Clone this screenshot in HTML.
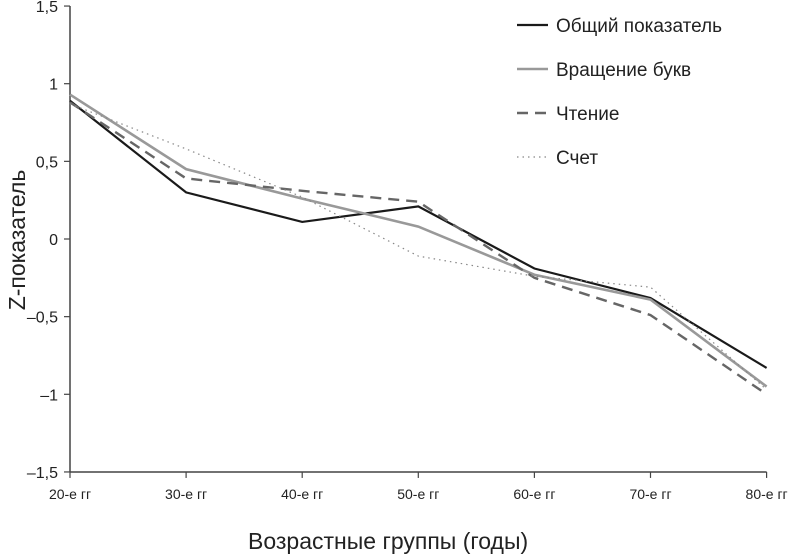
<!DOCTYPE html>
<html><head><meta charset="utf-8"><style>
body{margin:0;background:#fff;}
svg text{font-family:"Liberation Sans Narrow","Liberation Sans",sans-serif;fill:#222;}
</style></head><body>
<svg width="790" height="555">
<g id="axes"></g><g id="series"></g><g id="legend"></g>
<text x="248" y="549" font-size="23">Возрастные группы (годы)</text>
<text transform="translate(25,240) rotate(-90)" text-anchor="middle" font-size="23">Z-показатель</text>
</svg>
<script>
const categories=["20-е гг","30-е гг","40-е гг","50-е гг","60-е гг","70-е гг","80-е гг"];
const yTicks=[1.5,1,0.5,0,-0.5,-1,-1.5];
const yTickLabels=["1,5","1","0,5","0","–0,5","–1","–1,5"];
const overall=[0.89,0.30,0.11,0.21,-0.19,-0.38,-0.83];
const rotation=[0.93,0.45,0.26,0.08,-0.23,-0.39,-0.95];
const reading=[0.88,0.39,0.31,0.24,-0.25,-0.49,-1.0];
const counting=[0.87,0.58,0.27,-0.11,-0.24,-0.31,-0.97];
const seriesNames=["Общий показатель","Вращение букв","Чтение","Счет"];
const NS="http://www.w3.org/2000/svg";
const x=i=>70+i*116.1;
const y=v=>239-v*155.3;
function mk(t,a,p){const e=document.createElementNS(NS,t);for(const k in a)e.setAttribute(k,a[k]);p.appendChild(e);return e;}
const ax=document.getElementById('axes');
let l=mk('line',{x1:70,y1:y(1.5),x2:70,y2:y(-1.5),stroke:'#444','stroke-width':1.5},ax);


l=mk('line',{x1:70,y1:y(-1.5),x2:x(6),y2:y(-1.5),stroke:'#444','stroke-width':1.5},ax);


yTicks.forEach((v,i)=>{
 const t=mk('line',{x1:64,x2:70,y1:y(v),y2:y(v),stroke:'#444','stroke-width':1.2},ax);
 
 
 const tx=mk('text',{x:58,y:y(v)+6,'text-anchor':'end','font-size':16},ax);
 tx.textContent=yTickLabels[i];
 
 
});
categories.forEach((c,i)=>{
 const t=mk('line',{x1:x(i),x2:x(i),y1:y(-1.5),y2:y(-1.5)+6,stroke:'#444','stroke-width':1.2},ax);
 
 
 const tx=mk('text',{x:x(i),y:y(-1.5)+27,'text-anchor':'middle','font-size':14},ax);
 tx.textContent=c;
 
 
});
const styles=[{stroke:'#1a1a1a',w:2.2,d:''},{stroke:'#999',w:2.6,d:''},{stroke:'#666',w:2.4,d:'11,7'},{stroke:'#888',w:1.2,d:'1.5,4'}];
const data=[overall,rotation,reading,counting];
const sg=document.getElementById('series'),lg=document.getElementById('legend');
data.forEach((arr,s)=>{
 const st=styles[s];
 const p=mk('polyline',{points:arr.map((v,i)=>x(i)+','+y(v)).join(' '),fill:'none',stroke:st.stroke,'stroke-width':st.w,'stroke-dasharray':st.d},sg);
 
 
 const ly=25+s*44;
 const ll=mk('line',{x1:517,x2:548,y1:ly,y2:ly,stroke:st.stroke,'stroke-width':st.w,'stroke-dasharray':st.d},lg);
 
 
 const lt=mk('text',{x:556,y:ly+7,'font-size':19},lg);
 lt.textContent=seriesNames[s];
 
 
});
</script>
</body></html>
